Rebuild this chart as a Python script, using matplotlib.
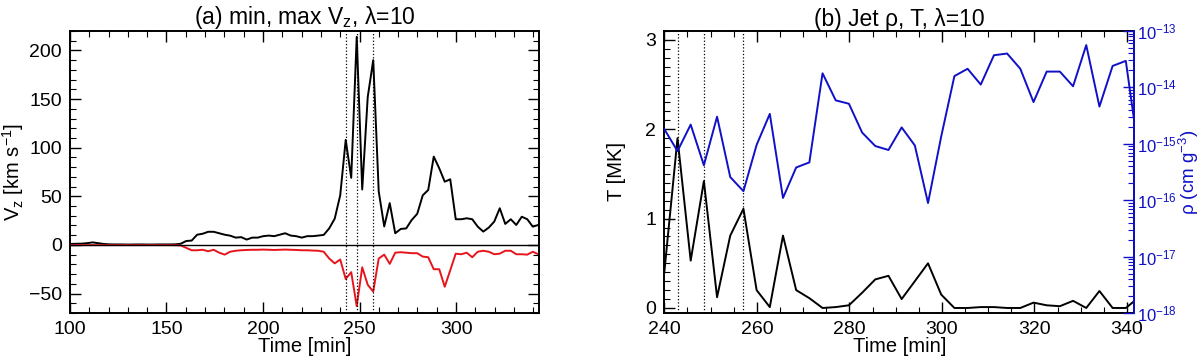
import numpy as np
import matplotlib
matplotlib.use("Agg")
import matplotlib.pyplot as plt
from matplotlib.ticker import MultipleLocator, LogLocator, FixedLocator, NullFormatter

plt.rcParams['font.family'] = ['Liberation Sans', 'DejaVu Sans']
plt.rcParams['mathtext.fontset'] = 'custom'
plt.rcParams['mathtext.rm'] = 'Liberation Sans'
plt.rcParams['mathtext.it'] = 'Liberation Sans'

# ---- panel (a): min / max Vz ----
time_a = [100.35, 103.2, 106.05, 108.9, 111.75, 114.6, 117.45, 120.3, 123.15, 126.0,
          128.85, 131.7, 134.55, 137.4, 140.25, 143.1, 145.95, 148.8, 151.65, 154.5,
          157.35, 160.2, 163.05, 165.9, 168.75, 171.6, 174.45, 177.3, 180.15, 183.0,
          185.85, 188.7, 191.55, 194.4, 197.25, 200.1, 202.95, 205.8, 208.65, 211.5,
          214.35, 217.2, 220.05, 222.9, 225.75, 228.6, 231.45, 234.3, 237.15, 240.0,
          242.85, 245.7, 248.55, 251.4, 254.25, 257.1, 259.95, 262.8, 265.65, 268.5,
          271.35, 274.2, 277.05, 279.9, 282.75, 285.6, 288.45, 291.3, 294.15, 297.0,
          299.85, 302.7, 305.55, 308.4, 311.25, 314.1, 316.95, 319.8, 322.65, 325.5,
          328.35, 331.2, 334.05, 336.9, 339.75, 342.6]
vz_max = [1.0, 1.2, 1.3, 1.8, 2.6, 1.8, 1.0, 0.6, 0.5, 0.5,
          0.4, 0.4, 0.5, 0.5, 0.4, 0.4, 0.5, 0.5, 0.5, 0.6,
          1.2, 4.0, 4.5, 10.5, 11.5, 13.5, 13.5, 12.0, 10.5, 9.5,
          7.5, 8.0, 5.5, 7.5, 7.5, 9.0, 9.6, 9.0, 10.5, 12.0,
          9.6, 9.0, 7.5, 9.0, 9.0, 9.6, 10.3, 17.0, 27.0, 51.0,
          108.0, 69.0, 214.0, 57.0, 152.0, 190.0, 55.0, 19.0, 43.0, 12.0,
          16.4, 17.0, 25.7, 32.0, 51.0, 56.5, 90.8, 78.8, 65.0, 67.5,
          26.4, 26.4, 27.4, 26.4, 18.8, 13.7, 17.8, 24.0, 37.7, 21.6,
          26.4, 20.5, 29.0, 26.4, 18.8, 20.5]
vz_min = [-0.2, -0.2, -0.2, -0.2, -0.2, -0.2, -0.2, -0.2, -0.2, -0.2,
          -0.2, -0.2, -0.2, -0.2, -0.2, -0.2, -0.2, -0.2, -0.2, -0.3,
          -0.5, -3.0, -5.5, -5.5, -5.0, -6.5, -5.0, -8.0, -10.0, -7.0,
          -6.0, -5.5, -5.2, -5.0, -5.0, -4.8, -5.0, -5.2, -5.0, -4.8,
          -5.0, -5.2, -5.5, -5.5, -5.8, -6.0, -7.0, -14.0, -19.0, -15.0,
          -35.0, -28.0, -63.0, -23.0, -41.0, -48.0, -14.0, -10.0, -19.5, -8.0,
          -7.5, -8.0, -8.5, -8.5, -12.0, -12.7, -25.0, -25.0, -43.0, -26.0,
          -9.0, -9.6, -8.0, -12.7, -7.0, -6.0, -7.0, -9.6, -9.0, -6.0,
          -6.0, -9.6, -9.6, -10.0, -7.0, -9.6]

# ---- panel (b): jet density and temperature ----
time_b = [240.0, 242.85, 245.7, 248.55, 251.4, 254.25, 257.1, 259.95, 262.8, 265.65,
          268.5, 271.35, 274.2, 277.05, 279.9, 282.75, 285.6, 288.45, 291.3, 294.15,
          297.0, 299.85, 302.7, 305.55, 308.4, 311.25, 314.1, 316.95, 319.8, 322.65,
          325.5, 328.35, 331.2, 334.05, 336.9, 339.75, 342.6]
temp_mk = [0.40, 1.90, 0.53, 1.42, 0.12, 0.81, 1.11, 0.20, 0.01, 0.81,
           0.20, 0.11, 0.0, 0.01, 0.03, 0.17, 0.32, 0.36, 0.10, 0.30,
           0.50, 0.15, 0.0, 0.0, 0.01, 0.01, 0.0, 0.0, 0.06, 0.03,
           0.02, 0.08, 0.0, 0.19, 0.0, 0.0, 0.12]
log_rho = [-14.74, -15.13, -14.66, -15.38, -14.52, -15.59, -15.84, -15.02, -14.47, -15.96,
           -15.42, -15.33, -13.75, -14.23, -14.29, -14.80, -15.04, -15.11, -14.71, -15.03,
           -16.05, -14.87, -13.80, -13.67, -13.95, -13.43, -13.40, -13.67, -14.26, -13.72,
           -13.72, -13.98, -13.25, -14.34, -13.62, -13.53, -15.20]
rho = [10.0 ** v for v in log_rho]
rho_ticks = [1e-18, 1e-17, 1e-16, 1e-15, 1e-14, 1e-13]

event_times = [243.0, 248.6, 257.1]

fig = plt.figure(figsize=(12, 3.62), dpi=100)
ax1 = fig.add_axes([0.0583, 0.1354, 0.3909, 0.779])
ax2 = fig.add_axes([0.5536, 0.1354, 0.3917, 0.779])

fs_tick = 14
fs_lab = 14.5
fs_title = 16.5

def style_axis(ax):
    for sp in ax.spines.values():
        sp.set_linewidth(1.4)
    ax.tick_params(which='both', direction='in', top=True, right=True,
                   labelsize=fs_tick, pad=6)
    ax.tick_params(which='major', length=8, width=1.0)
    ax.tick_params(which='minor', length=4, width=0.8)

# (a)
ax1.plot(time_a, vz_max, color='black', lw=1.4)
ax1.plot(time_a, vz_min, color='#e8141c', lw=1.4)
ax1.axhline(0, color='black', lw=1.0)
for t in event_times:
    ax1.axvline(t, color='black', ls=':', lw=0.9)
ax1.set_xlim(100, 343)
ax1.set_ylim(-70, 220)
ax1.xaxis.set_major_locator(MultipleLocator(50))
ax1.xaxis.set_minor_locator(MultipleLocator(10))
ax1.yaxis.set_major_locator(MultipleLocator(50))
ax1.yaxis.set_minor_locator(MultipleLocator(10))
style_axis(ax1)
ax1.set_xlabel('Time [min]', fontsize=fs_lab, labelpad=-1)
ax1.set_ylabel('V$_z$ [km s$^{-1}$]', fontsize=fs_lab, labelpad=2)
ax1.set_title('(a) min, max V$_z$, λ=10', fontsize=fs_title, pad=3)

# (b)
ax2.plot(time_b, temp_mk, color='black', lw=1.4)
for t in event_times:
    ax2.axvline(t, color='black', ls=':', lw=0.9)
ax2.set_xlim(240, 341.6)
ax2.set_ylim(-0.056, 3.1)
ax2.xaxis.set_major_locator(MultipleLocator(20))
ax2.xaxis.set_minor_locator(MultipleLocator(5))
ax2.yaxis.set_major_locator(MultipleLocator(1))
ax2.yaxis.set_minor_locator(MultipleLocator(0.1))
style_axis(ax2)
ax2.tick_params(which='both', right=False)
ax2.set_xlabel('Time [min]', fontsize=fs_lab, labelpad=-1)
ax2.set_ylabel('T [MK]', fontsize=fs_lab, labelpad=14)
ax2.set_title('(b) Jet ρ, T, λ=10', fontsize=fs_title, pad=3)

blue = '#1010c8'
ax3 = ax2.twinx()
ax3.plot(time_b, rho, color=blue, lw=1.4)
ax3.set_yscale('log')
ax3.set_ylim(1e-18, 1e-13)
ax3.set_xlim(240, 341.6)
ax3.yaxis.set_major_locator(FixedLocator(rho_ticks))
ax3.yaxis.set_minor_locator(LogLocator(base=10, subs=np.arange(2, 10), numticks=10))
ax3.yaxis.set_minor_formatter(NullFormatter())
ax3.spines['right'].set_color(blue)
ax3.spines['right'].set_linewidth(1.4)
for s in ['left', 'top', 'bottom']:
    ax3.spines[s].set_visible(False)
ax3.tick_params(which='both', direction='in', colors=blue, labelsize=12, pad=2)
ax3.tick_params(which='major', length=8, width=1.0)
ax3.tick_params(which='minor', length=4, width=0.8)
ax3.set_ylabel('ρ (cm g$^{-3}$)', fontsize=13.5, color=blue)
ax3.yaxis.set_label_coords(1.091, 0.5)

fig.savefig('out.png', dpi=100)
